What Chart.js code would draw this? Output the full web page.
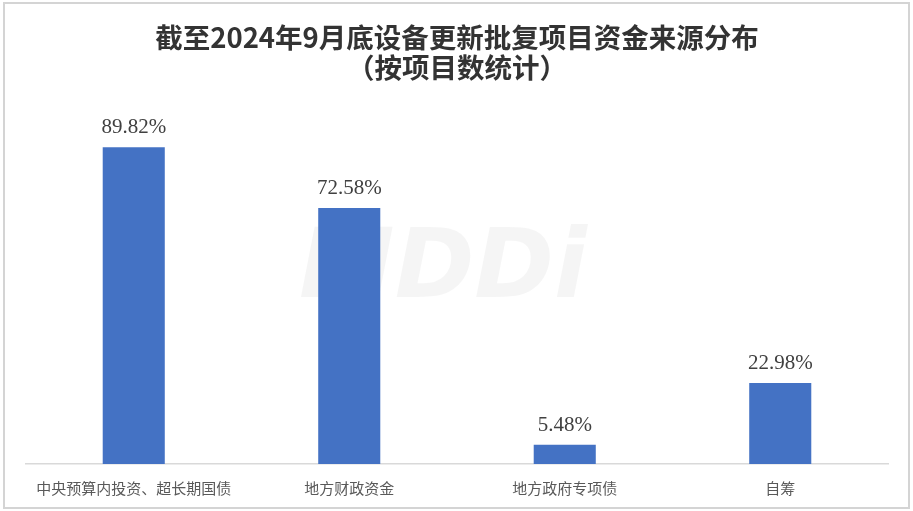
<!DOCTYPE html>
<html>
<head>
<meta charset="utf-8">
<script src="https://cdn.jsdelivr.net/npm/chart.js@4"></script>
<style>
  html, body { margin: 0; padding: 0; background: #fff; }
  #wrap { width: 913px; height: 511px; position: relative; }
</style>
</head>
<body>
<div id="wrap"><canvas id="chart" width="913" height="511"></canvas></div>
<script>
const titleLines = ["截至2024年9月底设备更新批复项目资金来源分布", "（按项目数统计）"];
const categories = ["中央预算内投资、超长期国债", "地方财政资金", "地方政府专项债", "自筹"];
const shares = [89.82, 72.58, 5.48, 22.98];

// value labels above bars + frame + watermark
const extras = {
  id: "extras",
  beforeDatasetsDraw(chart) {
    const ctx = chart.ctx;
    ctx.save();
    ctx.fillStyle = "rgba(190,190,190,0.16)";
    ctx.font = "italic bold 96px 'DejaVu Sans'";
    ctx.textAlign = "center";
    ctx.textBaseline = "middle";
    ctx.fillText("MDDi", 443, 272);
    ctx.restore();
  },
  afterDraw(chart) {
    const ctx = chart.ctx;
    ctx.save();
    const meta = chart.getDatasetMeta(0);
    ctx.fillStyle = "#404040";
    ctx.font = "21px 'Liberation Serif'";
    ctx.textAlign = "center";
    ctx.textBaseline = "bottom";
    meta.data.forEach((bar, i) => {
      ctx.fillText(shares[i].toFixed(2) + "%", bar.x, bar.y - 9);
    });
    ctx.strokeStyle = "#d4d4d4";
    ctx.lineWidth = 2;
    ctx.strokeRect(4, 3, 905, 505);
    ctx.restore();
  }
};

new Chart(document.getElementById("chart"), {
  type: "bar",
  data: {
    labels: categories,
    datasets: [{
      data: shares,
      backgroundColor: "#4472C4",
      categoryPercentage: 1,
      barPercentage: 0.288
    }]
  },
  options: {
    responsive: false,
    animation: false,
    layout: { padding: { top: 10, left: 26, right: 25, bottom: 7 } },
    plugins: {
      legend: { display: false },
      tooltip: { enabled: false },
      title: {
        display: true,
        text: titleLines,
        color: "#333333",
        font: { family: "'Noto Sans CJK SC'", size: 27.5, weight: "bold", lineHeight: 1.08 },
        padding: { top: 13, bottom: 29 }
      }
    },
    scales: {
      x: {
        grid: { display: false },
        border: { color: "#d9d9d9", width: 1.5 },
        ticks: {
          color: "#595959",
          padding: 7,
          font: { family: "'Noto Sans CJK SC'", size: 15 }
        }
      },
      y: {
        display: false,
        min: 0,
        max: 100
      }
    }
  },
  plugins: [extras]
});
</script>
</body>
</html>
